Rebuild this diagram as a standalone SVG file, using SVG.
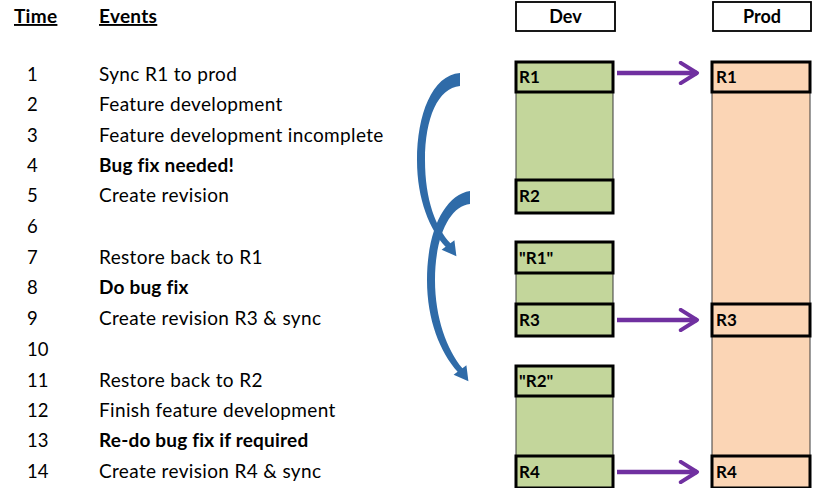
<svg xmlns="http://www.w3.org/2000/svg" width="816" height="488" viewBox="0 0 816 488">
  <defs>
    <style>
      text { font-family: Lato, "Open Sans", "Liberation Sans", sans-serif; fill: #000; }
      .hdr { font-size: 19px; font-weight: bold; text-decoration: underline; letter-spacing: 0.3px; }
      .num { font-size: 18.5px; }
      .ev { font-size: 19px; letter-spacing: 0.35px; }
      .evb { font-size: 19px; font-weight: bold; letter-spacing: 0.2px; }
      .col { font-size: 18px; font-weight: bold; text-anchor: middle; }
      .lbl { font-size: 17px; font-weight: bold; }
      .dev { fill: #C3D69B; stroke: #3a3a3a; stroke-width: 1; }
      .prod { fill: #FBD5B5; stroke: #3a3a3a; stroke-width: 1; }
      .devbox { fill: #C3D69B; stroke: #000; stroke-width: 3; }
      .prodbox { fill: #FBD5B5; stroke: #000; stroke-width: 3; }
      .title { fill: #fff; stroke: #000; stroke-width: 1.8; }
      .sync { fill: none; stroke: #7030A0; stroke-width: 4.5; }
      .restore { fill: #2F6BA8; }
    </style>
    <marker id="chevron" viewBox="0 0 12 12" refX="10" refY="6" markerWidth="5.4" markerHeight="5.4" orient="auto" markerUnits="strokeWidth">
      <path d="M2,1 L10,6 L2,11" fill="none" stroke="#7030A0" stroke-width="2" stroke-linecap="round" stroke-linejoin="round"/>
    </marker>
  </defs>

  <!-- timeline table -->
  <g id="timeline">
    <text class="hdr" x="14" y="23">Time</text>
    <text class="hdr" x="99" y="23">Events</text>
    <g class="num">
      <text x="27" y="81">1</text>
      <text x="27" y="111">2</text>
      <text x="27" y="142">3</text>
      <text x="27" y="172">4</text>
      <text x="27" y="202">5</text>
      <text x="27" y="233">6</text>
      <text x="27" y="264">7</text>
      <text x="27" y="294">8</text>
      <text x="27" y="325">9</text>
      <text x="27" y="356">10</text>
      <text x="27" y="387">11</text>
      <text x="27" y="417">12</text>
      <text x="27" y="447">13</text>
      <text x="27" y="478">14</text>
    </g>
    <text class="ev" x="99" y="81">Sync R1 to prod</text>
    <text class="ev" x="99" y="111">Feature development</text>
    <text class="ev" x="99" y="142">Feature development incomplete</text>
    <text class="evb" x="99" y="172">Bug fix needed!</text>
    <text class="ev" x="99" y="202">Create revision</text>
    <text class="ev" x="99" y="264">Restore back to R1</text>
    <text class="evb" x="99" y="294">Do bug fix</text>
    <text class="ev" x="99" y="325">Create revision R3 &amp; sync</text>
    <text class="ev" x="99" y="387">Restore back to R2</text>
    <text class="ev" x="99" y="417">Finish feature development</text>
    <text class="evb" x="99" y="447">Re-do bug fix if required</text>
    <text class="ev" x="99" y="478">Create revision R4 &amp; sync</text>
  </g>

  <!-- column headers -->
  <g id="dev-header">
    <rect class="title" x="516" y="2" width="99" height="29"/>
    <text class="col" x="565.5" y="23">Dev</text>
  </g>
  <g id="prod-header">
    <rect class="title" x="713" y="2" width="98" height="29"/>
    <text class="col" x="762" y="23">Prod</text>
  </g>

  <!-- dev environment spans -->
  <g id="dev-span-1">
    <rect class="dev" x="516" y="62" width="97" height="151"/>
  </g>
  <g id="dev-span-2">
    <rect class="dev" x="516" y="242" width="97" height="94"/>
  </g>
  <g id="dev-span-3">
    <rect class="dev" x="516" y="366" width="97" height="124"/>
  </g>

  <!-- prod environment span -->
  <g id="prod-span">
    <rect class="prod" x="712" y="62" width="98" height="430"/>
  </g>

  <!-- dev revisions -->
  <g id="dev-r1">
    <rect class="devbox" x="516" y="62" width="97" height="30"/>
    <text class="lbl" x="519" y="83">R1</text>
  </g>
  <g id="dev-r2">
    <rect class="devbox" x="516" y="180" width="97" height="33"/>
    <text class="lbl" x="519" y="202">R2</text>
  </g>
  <g id="dev-r1-restored">
    <rect class="devbox" x="516" y="242" width="97" height="31"/>
    <text class="lbl" x="519" y="264">"R1"</text>
  </g>
  <g id="dev-r3">
    <rect class="devbox" x="516" y="304" width="97" height="32"/>
    <text class="lbl" x="519" y="326">R3</text>
  </g>
  <g id="dev-r2-restored">
    <rect class="devbox" x="516" y="366" width="97" height="30"/>
    <text class="lbl" x="519" y="387">"R2"</text>
  </g>
  <g id="dev-r4">
    <rect class="devbox" x="516" y="456" width="97" height="32"/>
    <text class="lbl" x="519" y="478">R4</text>
  </g>

  <!-- prod revisions -->
  <g id="prod-r1">
    <rect class="prodbox" x="712" y="62" width="98" height="30"/>
    <text class="lbl" x="716" y="83">R1</text>
  </g>
  <g id="prod-r3">
    <rect class="prodbox" x="712" y="304" width="98" height="32"/>
    <text class="lbl" x="716" y="326">R3</text>
  </g>
  <g id="prod-r4">
    <rect class="prodbox" x="712" y="456" width="98" height="32"/>
    <text class="lbl" x="716" y="478">R4</text>
  </g>

  <!-- connectors -->
  <g id="connectors">
    <!-- sync to prod -->
    <line class="sync" x1="617" y1="73" x2="697" y2="73" marker-end="url(#chevron)"/>
    <line class="sync" x1="617" y1="320" x2="697" y2="320" marker-end="url(#chevron)"/>
    <line class="sync" x1="617" y1="472" x2="697" y2="472" marker-end="url(#chevron)"/>
    <!-- restore R1 (tapering curved arrow) -->
    <path class="restore" d="M460,73 C432,75 417,115 417,160 C417,200 430,230 445.6,246.8 L441.6,249.8 L456.4,256.2 L454.4,240.2 L450.4,243.2 C436,228 425,200 425,160 C425,118 438,88 460,86 Z"/>
    <!-- restore R2 -->
    <path class="restore" d="M470,191 C445,195 427,230 427,280 C427,320 440,352 457.6,371.8 L453.6,374.8 L468.4,381.2 L466.4,365.2 L462.4,368.2 C447,350 435,318 435,280 C435,236 450,206 470,204 Z"/>
  </g>
</svg>
